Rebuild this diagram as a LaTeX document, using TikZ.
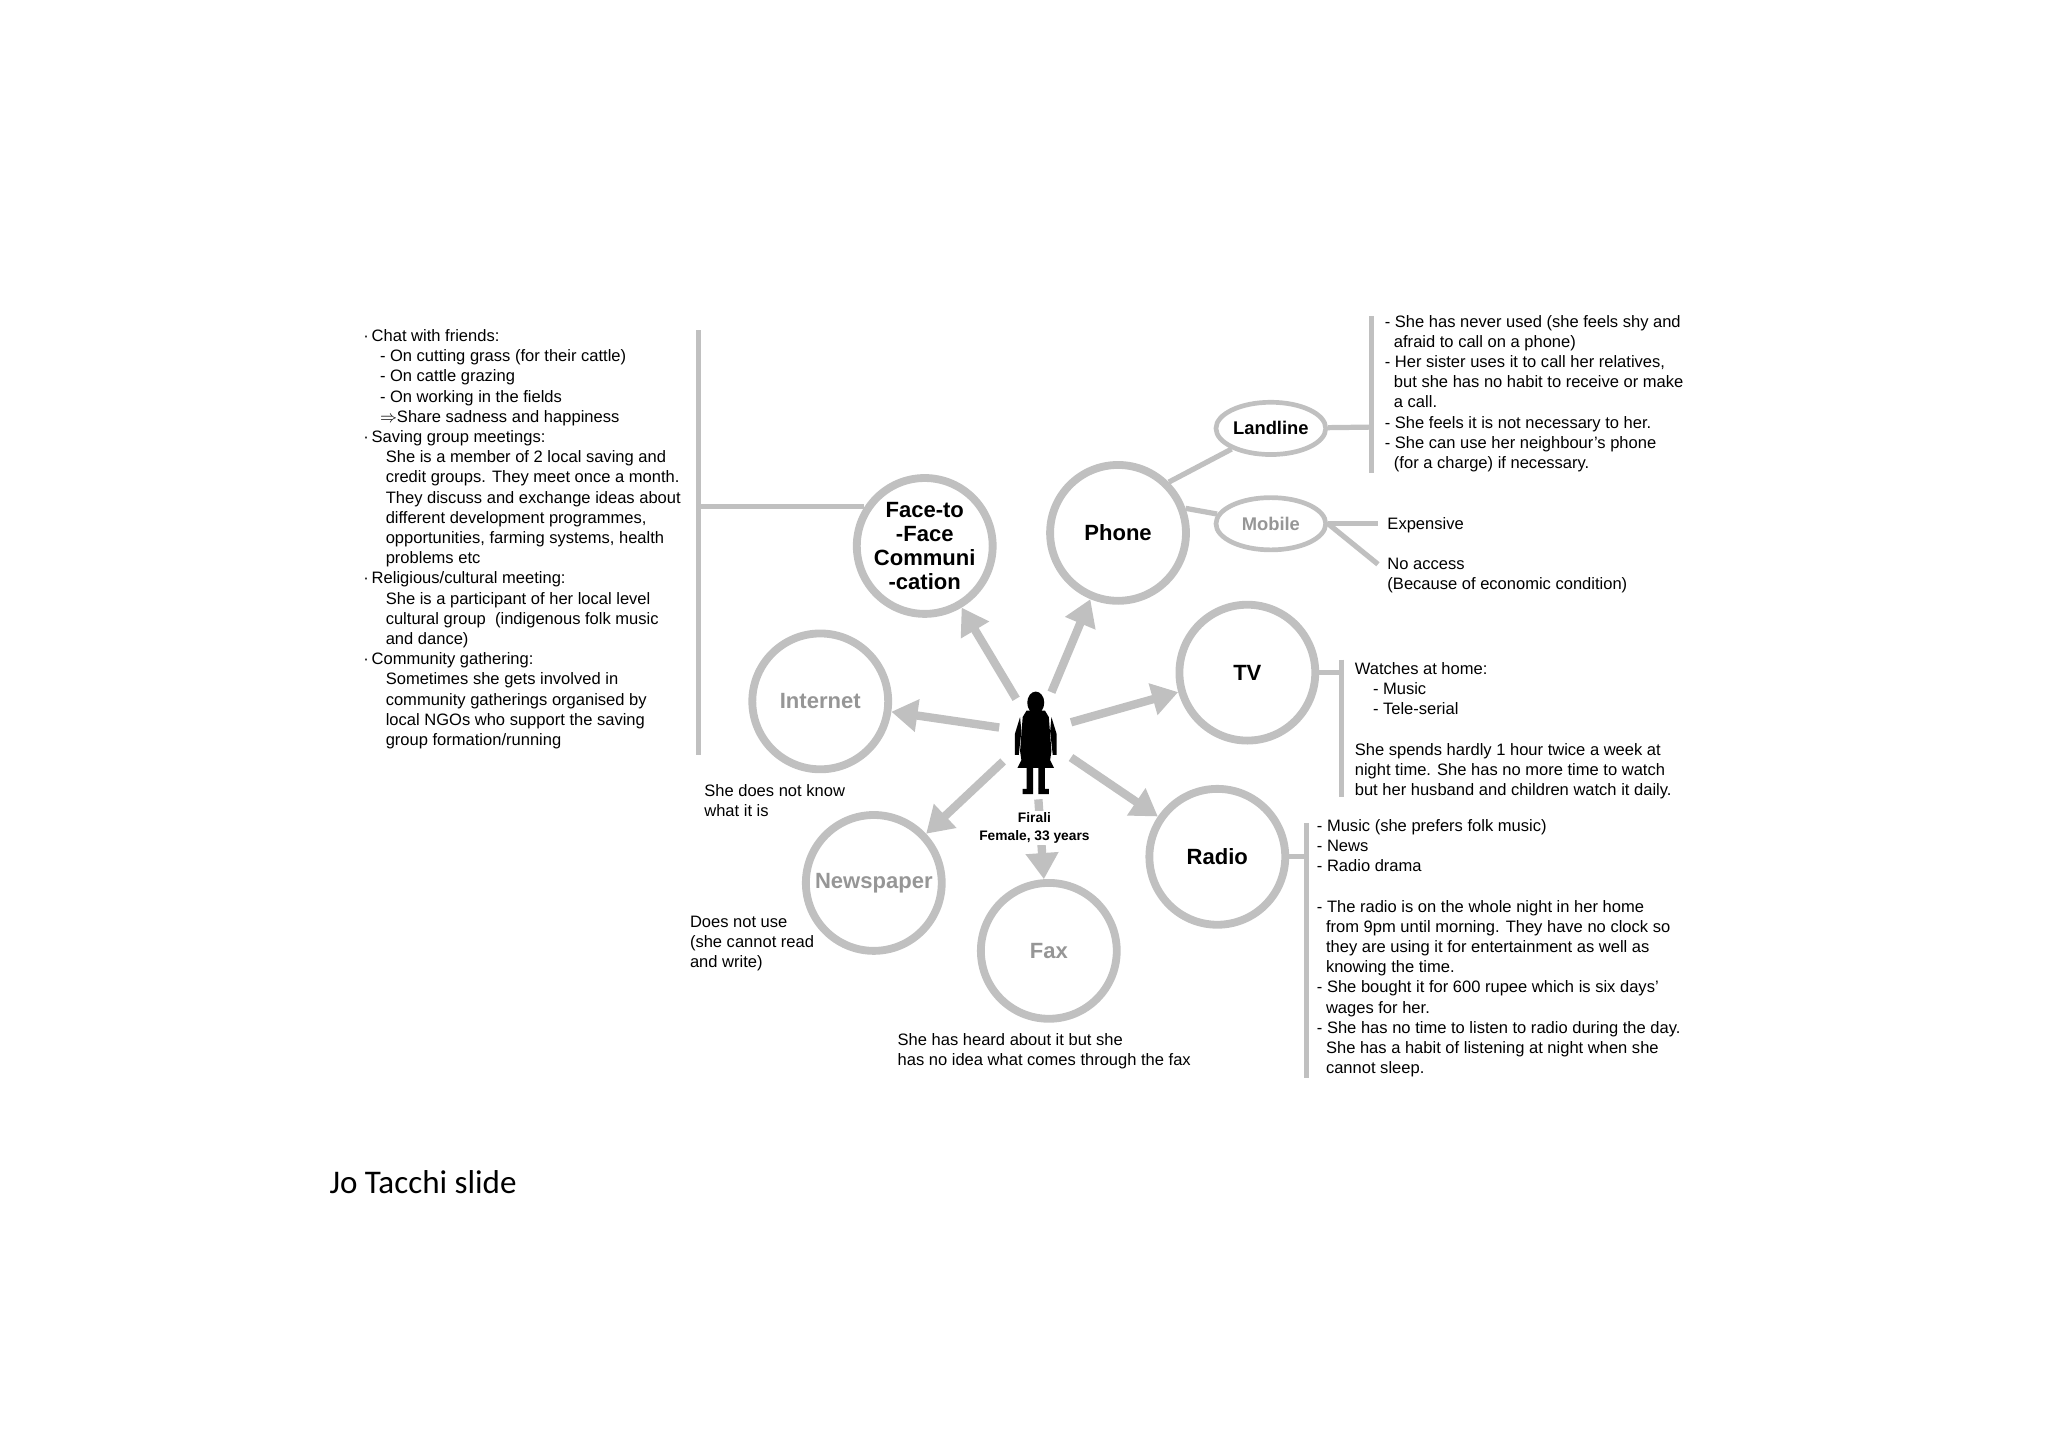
\documentclass[tikz,border=0pt]{standalone}
\usepackage{fontspec}
\setmainfont{Liberation Sans}
\newfontfamily\calib{Carlito}
\usetikzlibrary{shapes.geometric,arrows.meta}
\definecolor{cg}{RGB}{192,192,192}
\definecolor{tg}{RGB}{150,150,150}
\begin{document}
\begin{tikzpicture}[x=0.025cm,y=-0.025cm,
  circ/.style={circle,draw=cg,line width=0.15cm,minimum size=2.6cm,inner sep=0pt,font=\fontsize{12}{13}\selectfont\bfseries,align=center},
  dim/.style={text=tg},
  ell/.style={ellipse,draw=cg,line width=0.09cm,minimum width=2.1cm,minimum height=1cm,inner sep=0pt,font=\fontsize{10}{12}\selectfont\bfseries},
  arr/.style={draw=cg,line width=0.16cm,-{Triangle[length=0.5cm,width=0.6cm]}},
  ln/.style={draw=cg,line width=0.1cm},
  txt/.style={anchor=north west,align=left,inner sep=0pt,font=\fontsize{9}{11}\selectfont},
]
\useasboundingbox (0,0) rectangle (1568,1108);
% circles
\node[circ] (ftf) at (708,418) {Face-to\\-Face\\Communi\\-cation};
\node[circ] (phone) at (856,408) {Phone};
\node[circ] (tv) at (955,515) {TV};
\node[circ] (radio) at (932,656) {Radio};
\node[circ,dim] (fax) at (803,728) {Fax};
\node[circ,dim] (news) at (669,676) {Newspaper};
\node[circ,dim] (inet) at (628,537) {Internet};
\node[ell] (land) at (973,328) {Landline};
\node[ell,dim] (mob) at (973,401) {Mobile};
% figure
\fill[black] (793,538) ellipse (6.5 and 8.5);
\fill[black] (786,544) -- (800,544) -- (803,549) -- (805,575) -- (804,582) -- (807,588) -- (779,588) -- (782,582) -- (781,575) -- (783,549) -- cycle;
\fill[black] (781,549) -- (777,562) -- (777,578) -- (780,578) -- (782,560) -- cycle;
\fill[black] (805,549) -- (809,562) -- (809,578) -- (806,578) -- (804,560) -- cycle;
\fill[black] (786,587) rectangle (791,604) (795,587) rectangle (800,604);
\fill[black] (783,604) rectangle (791,608) (795,604) rectangle (803,608);
% arrows
\coordinate (a1) at (778,535);
\coordinate (a2) at (805,530);
\coordinate (a3) at (820,553);
\coordinate (a4) at (820,580);
\coordinate (a5) at (795,612);
\coordinate (a6) at (768,583);
\coordinate (a7) at (765,557);
\draw[arr] (a1) -- (ftf);
\draw[arr] (a2) -- (phone);
\draw[arr] (a3) -- (tv);
\draw[arr] (a4) -- (radio);
\draw[arr] (a5) -- (fax);
\draw[arr] (a6) -- (news);
\draw[arr] (a7) -- (inet);
\node[fill=white,inner sep=1pt,align=center,font=\fontsize{7.5}{9.5}\selectfont\bfseries] (lab) at (792,634) {Firali\\Female, 33 years};
% connector lines
\coordinate (b1) at (535,388);
\coordinate (b1t) at (535,253);
\coordinate (b1b) at (535,578);
\draw[ln] (ftf.147) -- (ftf.147 -| b1);
\draw[ln] (b1t) -- (b1b);
\draw[ln] (phone.north east) -- (land);
\draw[ln] (phone.20) -- (mob);
\coordinate (b2) at (1050,327);
\draw[ln] (land) -- (b2);
\coordinate (b2t) at (1050,242);\coordinate (b2b) at (1050,362);
\draw[ln] (b2t) -- (b2b);
\coordinate (e1) at (1055,401);\coordinate (e2) at (1055,432);
\draw[ln] (mob.east) -- (e1);
\draw[ln] (mob.east) -- (e2);
\coordinate (b3) at (1027,515);\coordinate (b3t) at (1027,505);\coordinate (b3b) at (1027,610);
\draw[ln] (tv) -- (b3); \draw[ln] (b3t) -- (b3b);
\coordinate (b4) at (1000,656);\coordinate (b4t) at (1000,630);\coordinate (b4b) at (1000,825);
\draw[ln] (radio) -- (b4); \draw[ln] (b4t) -- (b4b);
% texts
\node[txt] (t1) at (278,252) {%
·\,Chat with friends:\\
\hspace*{1.0em}- On cutting grass (for their cattle)\\
\hspace*{1.0em}- On cattle grazing\\
\hspace*{1.0em}- On working in the fields\\
\hspace*{1.0em}$\Rightarrow$Share sadness and happiness\\
·\,Saving group meetings:\\
\hspace*{1.35em}She is a member of 2 local saving and\\
\hspace*{1.35em}credit groups. They meet once a month.\\
\hspace*{1.35em}They discuss and exchange ideas about\\
\hspace*{1.35em}different development programmes,\\
\hspace*{1.35em}opportunities, farming systems, health\\
\hspace*{1.35em}problems etc\\
·\,Religious/cultural meeting:\\
\hspace*{1.35em}She is a participant of her local level\\
\hspace*{1.35em}cultural group \ (indigenous folk music\\
\hspace*{1.35em}and dance)\\
·\,Community gathering:\\
\hspace*{1.35em}Sometimes she gets involved in\\
\hspace*{1.35em}community gatherings organised by\\
\hspace*{1.35em}local NGOs who support the saving\\
\hspace*{1.35em}group formation/running};
\node[txt] (t2) at (1060,241) {%
- She has never used (she feels shy and\\
\hspace*{0.55em}afraid to call on a phone)\\
- Her sister uses it to call her relatives,\\
\hspace*{0.55em}but she has no habit to receive or make\\
\hspace*{0.55em}a call.\\
- She feels it is not necessary to her.\\
- She can use her neighbour's phone\\
\hspace*{0.55em}(for a charge) if necessary.};
\node[txt] (t3) at (1062,396) {Expensive};
\node[txt] (t4) at (1062,427) {No access\\(Because of economic condition)};
\node[txt] (t5) at (1037,507) {%
Watches at home:\\
\hspace*{1.1em}- Music\\
\hspace*{1.1em}- Tele-serial\\[11pt]
She spends hardly 1 hour twice a week at\\
night time. She has no more time to watch\\
but her husband and children watch it daily.};
\node[txt] (t6) at (1008,627) {%
- Music (she prefers folk music)\\
- News\\
- Radio drama\\[11pt]
- The radio is on the whole night in her home\\
\hspace*{0.55em}from 9pm until morning. They have no clock so\\
\hspace*{0.55em}they are using it for entertainment as well as\\
\hspace*{0.55em}knowing the time.\\
- She bought it for 600 rupee which is six days'\\
\hspace*{0.55em}wages for her.\\
- She has no time to listen to radio during the day.\\
\hspace*{0.55em}She has a habit of listening at night when she\\
\hspace*{0.55em}cannot sleep.};
\node[txt] (t7) at (539,600) {She does not know\\what it is};
\node[txt] (t8) at (528,701) {Does not use\\(she cannot read\\and write)};
\node[txt] (t9) at (687,791) {She has heard about it but she\\has no idea what comes through the fax};
\node[anchor=west,inner sep=0pt,font=\calib\fontsize{18}{21}\selectfont] (jt) at (252,905) {Jo Tacchi slide};
\end{tikzpicture}
\end{document}
